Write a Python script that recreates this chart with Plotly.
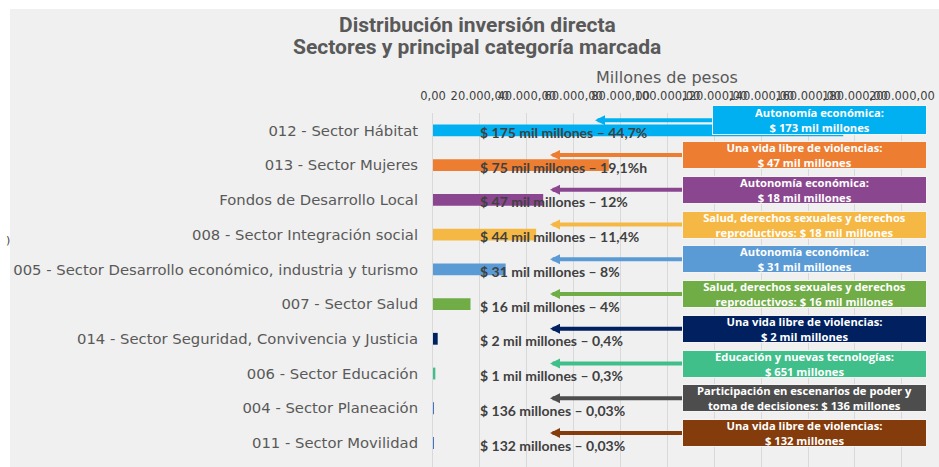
import plotly.graph_objects as go

# ---------------- data ----------------
categories = [
    "012 - Sector Hábitat",
    "013 - Sector Mujeres",
    "Fondos de Desarrollo Local",
    "008 - Sector Integración social",
    "005 - Sector Desarrollo económico, industria y turismo",
    "007 - Sector Salud",
    "014 - Sector Seguridad, Convivencia y Justicia",
    "006 - Sector Educación",
    "004 - Sector Planeación",
    "011 - Sector Movilidad",
]
values = [175000, 75000, 47000, 44000, 31000, 16000, 2000, 1000, 136, 132]
value_labels = [
    "$ 175 mil millones – 44,7%",
    "$ 75 mil millones – 19,1%h",
    "$ 47 mil millones – 12%",
    "$ 44 mil millones – 11,4%",
    "$ 31 mil millones – 8%",
    "$ 16 mil millones – 4%",
    "$ 2 mil millones – 0,4%",
    "$ 1 mil millones – 0,3%",
    "$ 136 millones – 0,03%",
    "$ 132 millones – 0,03%",
]
box_labels = [
    "Autonomía económica:<br>$ 173 mil millones",
    "Una vida libre de violencias:<br>$ 47 mil millones",
    "Autonomía económica:<br>$ 18 mil millones",
    "Salud, derechos sexuales y derechos<br>reproductivos: $ 18 mil millones",
    "Autonomía económica:<br>$ 31 mil millones",
    "Salud, derechos sexuales y derechos<br>reproductivos: $ 16 mil millones",
    "Una vida libre de violencias:<br>$ 2 mil millones",
    "Educación y nuevas tecnologías:<br>$ 651 millones",
    "Participación en escenarios de poder y<br>toma de decisiones: $ 136 millones",
    "Una vida libre de violencias:<br>$ 132 millones",
]
tick_values = [0, 20000, 40000, 60000, 80000, 100000, 120000, 140000, 160000, 180000, 200000]
tick_labels = ["0,00", "20.000,00", "40.000,00", "60.000,00", "80.000,00", "100.000,00",
               "120.000,00", "140.000,00", "160.000,00", "180.000,00", "200.000,00"]

# ---------------- styles ----------------
bar_colors = ["#00b0f0", "#ed7d31", "#8b4690", "#f6b844", "#5b9bd5",
              "#70ad47", "#002060", "#41bf8b", "#4472c4", "#4472c4"]
box_colors = ["#00b0f0", "#ed7d31", "#8b4690", "#f6b844", "#5b9bd5",
              "#70ad47", "#002060", "#41bf8b", "#4d4d4d", "#843c0c"]

W, H = 939, 467
L, R, T, B = 433, 930, 113, 467
XMAX = 212000


def px_x(p):
    return (p - L) / (R - L)


def px_y(p):
    return (B - p) / (B - T)


def px_to_data(p):
    return (p - L) / (R - L) * XMAX


fig = go.Figure()
fig.add_trace(go.Bar(
    x=values, y=categories, orientation="h",
    marker=dict(color=bar_colors, line=dict(width=0)),
    width=0.34, hoverinfo="x+y",
))

annotations = []
# value labels
for cat, lab in zip(categories, value_labels):
    annotations.append(dict(
        x=px_to_data(478), y=cat, xref="x", yref="y", text="<b>%s</b>" % lab,
        showarrow=False, xanchor="left", yanchor="middle", yshift=-2,
        font=dict(family="Lato", size=14, color="#404040"),
    ))
# arrows
for i, (cat, col) in enumerate(zip(categories, box_colors)):
    tip = px_to_data(595 if i == 0 else 550)
    tail = px_to_data(720 if i == 0 else 690)
    annotations.append(dict(
        x=tip, y=cat, xref="x", yref="y", ax=tail, ay=0, axref="x", ayref="pixel",
        text="", showarrow=True, arrowhead=2, arrowsize=0.5, arrowwidth=4,
        arrowcolor=col, yshift=10, standoff=0,
    ))
# boxes
for i, (cat, lab, col) in enumerate(zip(categories, box_labels, box_colors)):
    annotations.append(dict(
        x=px_x(927), y=cat, xref="paper", yref="y", text="<b>%s</b>" % lab,
        showarrow=False, xanchor="right", yanchor="middle", yshift=10,
        width=(213 if i == 0 else 243), height=(28 if i == 0 else 26),
        bgcolor=col, bordercolor="#f4f4f4", borderwidth=1, borderpad=0,
        font=dict(family="Open Sans", size=11.2, color="#ffffff"), align="center",
    ))
# titles
annotations.append(dict(
    x=px_x(477), y=px_y(25), xref="paper", yref="paper",
    text="<b>Distribución inversión directa</b>", showarrow=False,
    xanchor="center", yanchor="middle",
    font=dict(family="Roboto", size=21, color="#595959"),
))
annotations.append(dict(
    x=px_x(477), y=px_y(47), xref="paper", yref="paper",
    text="<b>Sectores y principal categoría marcada</b>", showarrow=False,
    xanchor="center", yanchor="middle",
    font=dict(family="Roboto", size=21, color="#595959"),
))
annotations.append(dict(
    x=px_x(667), y=px_y(78), xref="paper", yref="paper",
    text="Millones de pesos", showarrow=False,
    xanchor="center", yanchor="middle",
    font=dict(family="DejaVu Sans", size=16, color="#595959"),
))
annotations.append(dict(
    x=px_x(8), y=px_y(240), xref="paper", yref="paper",
    text=")", showarrow=False, xanchor="center", yanchor="middle",
    font=dict(family="DejaVu Sans", size=11, color="#404040"),
))

shapes = [
    dict(type="rect", xref="paper", yref="paper", x0=px_x(0), x1=px_x(W),
         y0=px_y(9), y1=px_y(-5), fillcolor="#ffffff", line=dict(width=0), layer="below"),
    dict(type="rect", xref="paper", yref="paper", x0=px_x(-5), x1=px_x(10),
         y0=px_y(H + 5), y1=px_y(-5), fillcolor="#ffffff", line=dict(width=0), layer="below"),
]

fig.update_layout(
    width=W, height=H,
    margin=dict(l=L, r=W - R, t=T, b=H - B, pad=0),
    paper_bgcolor="#f0f0f0", plot_bgcolor="#f0f0f0",
    showlegend=False,
    annotations=annotations, shapes=shapes,
    font=dict(family="DejaVu Sans", color="#595959"),
    xaxis=dict(
        side="top", range=[0, XMAX], tickvals=tick_values, ticktext=tick_labels,
        tickangle=0,
        showgrid=True, gridcolor="#d9d9d9", gridwidth=1, zeroline=False,
        showline=False, ticks="outside", ticklen=7, tickcolor="rgba(0,0,0,0)",
        tickfont=dict(family="DejaVu Sans", size=11.5, color="#404040"),
        fixedrange=True,
    ),
    yaxis=dict(
        categoryorder="array", categoryarray=categories, autorange="reversed",
        showgrid=False, zeroline=False, showline=True, linecolor="#d9d9d9",
        ticks="outside", ticklen=11, tickcolor="rgba(0,0,0,0)",
        tickfont=dict(family="DejaVu Sans", size=14.8, color="#595959"),
        fixedrange=True,
    ),
)

fig.write_html("out.html", config={"displayModeBar": False},
               post_script="document.body.style.margin='0';")
